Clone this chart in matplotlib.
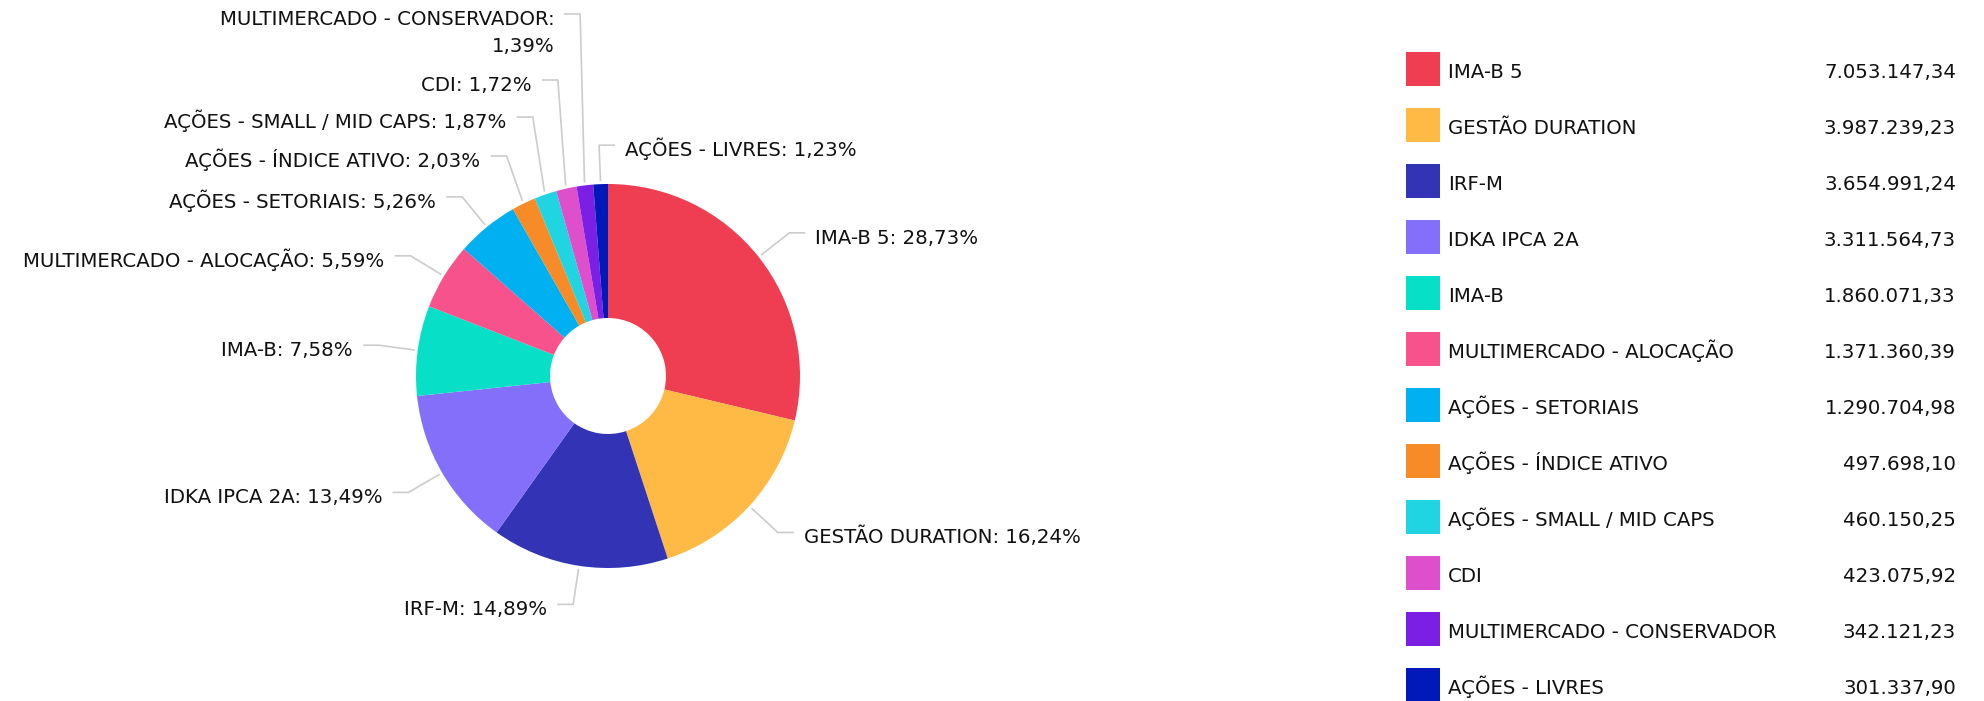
import matplotlib
matplotlib.use("Agg")
import matplotlib.pyplot as plt
from matplotlib.patches import Rectangle
import numpy as np

# data
categories = ["IMA-B 5", "GESTÃO DURATION", "IRF-M", "IDKA IPCA 2A", "IMA-B",
              "MULTIMERCADO - ALOCAÇÃO", "AÇÕES - SETORIAIS", "AÇÕES - ÍNDICE ATIVO",
              "AÇÕES - SMALL / MID CAPS", "CDI", "MULTIMERCADO - CONSERVADOR",
              "AÇÕES - LIVRES"]
values = [7053147.34, 3987239.23, 3654991.24, 3311564.73, 1860071.33,
          1371360.39, 1290704.98, 497698.10, 460150.25, 423075.92,
          342121.23, 301337.90]
colors = ["#EF3D52", "#FFBA45", "#3333B5", "#836FFA", "#07E0C7", "#F8528C",
          "#00B0F0", "#F68B27", "#21D4E2", "#DD4FCB", "#7A1FE3", "#0019B8"]

# layout (pixel coords of the 1984x701 canvas, y downwards)
W, H = 1984, 701
center = (608, 376)
radius = 192
hole = 58
elbow_r = 231
# label line y for crowded slices (None = follow the slice)
label_y = [None, None, None, None, None, None, None, 156, 117, 80, 14, None]
label_side = [None] * 11 + ["right"]
wrap = [False] * 10 + [True, False]
FS = 14.2
line_col = "#CCCCCC"


def br(x, nd=2):
    s = f"{x:,.{nd}f}"
    return s.replace(",", "#").replace(".", ",").replace("#", ".")


def main():
    plt.rcParams["font.family"] = ["DejaVu Sans"]
    fig = plt.figure(figsize=(W / 100.0, H / 100.0), dpi=100)
    ax = fig.add_axes([0, 0, 1, 1])

    wedges, _ = ax.pie(values, colors=colors, startangle=270, counterclock=True,
                       center=center, radius=radius,
                       wedgeprops=dict(width=radius - hole, linewidth=0))
    ax.set_xlim(0, W)
    ax.set_ylim(H, 0)
    ax.set_aspect("equal")
    ax.axis("off")

    total = sum(values)
    for i, w in enumerate(wedges):
        pct = values[i] / total * 100
        mid = np.deg2rad((w.theta1 + w.theta2) / 2.0)
        dx, dy = np.cos(mid), np.sin(mid)
        ax0 = center[0] + (radius + 3) * dx
        ay0 = center[1] + (radius + 3) * dy
        ex = center[0] + elbow_r * dx
        ey = center[1] + elbow_r * dy
        if label_y[i] is not None:
            ey = label_y[i]
        side = label_side[i]
        if side is None:
            side = "right" if dx >= 0 else "left"
        sgn = 1 if side == "right" else -1
        tx = ex + sgn * 16
        ax.plot([ax0, ex, tx], [ay0, ey, ey], color=line_col, lw=1.2,
                solid_capstyle="butt", zorder=1)
        if wrap[i]:
            lines = [categories[i] + ":", br(pct) + "%"]
        else:
            lines = [categories[i] + ": " + br(pct) + "%"]
        for k, ln in enumerate(lines):
            ax.text(tx + sgn * 10, ey + 11 + 27 * k, ln, fontsize=FS,
                    ha="left" if sgn > 0 else "right", va="baseline",
                    color="#111111")

    # legend
    for i in range(len(categories)):
        cy = 69 + 56 * i
        ax.add_patch(Rectangle((1406, cy - 17), 34, 34, color=colors[i], lw=0))
        ax.text(1448, cy + 9, categories[i], fontsize=FS, ha="left",
                va="baseline", color="#111111")
        ax.text(1956, cy + 9, br(values[i]), fontsize=FS, ha="right",
                va="baseline", color="#111111")

    fig.savefig("out.png", dpi=100)


if __name__ == '__main__':
    main()
